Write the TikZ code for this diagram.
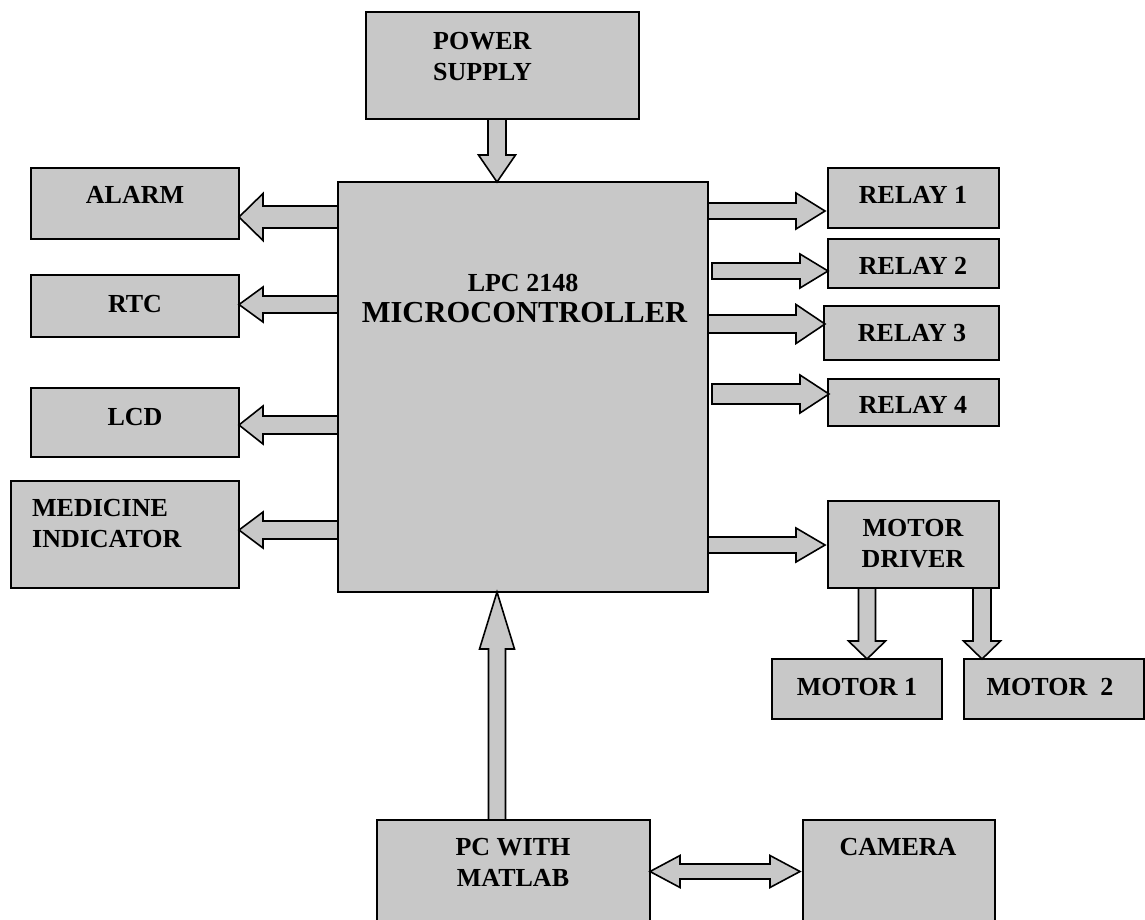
\documentclass[tikz,border=0pt]{standalone}
\usepackage{fontspec}
\setmainfont{Liberation Serif}
\definecolor{boxgray}{RGB}{200,200,200}
\tikzset{
  blk/.style={draw=black, fill=boxgray, line width=1.6pt},
  arr/.style={draw=black, fill=boxgray, line width=1.6pt, line join=miter},
  lbl/.style={inner sep=0pt, font=\fontsize{26}{31}\selectfont\bfseries},
}
% horizontal block arrow: x-tail, x-headbase, x-tip, y-centre, shaft half, head half
\newcommand\harr[6]{\filldraw[arr] (#1,#4-#5) -- (#2,#4-#5) -- (#2,#4-#6) -- (#3,#4) -- (#2,#4+#6) -- (#2,#4+#5) -- (#1,#4+#5) -- cycle;}
% vertical block arrow: y-tail, y-headbase, y-tip, x-centre, shaft half, head half
\newcommand\varr[6]{\filldraw[arr] (#4-#5,#1) -- (#4-#5,#2) -- (#4-#6,#2) -- (#4,#3) -- (#4+#6,#2) -- (#4+#5,#2) -- (#4+#5,#1) -- cycle;}
\begin{document}
\begin{tikzpicture}[x=1pt,y=-1pt]
\useasboundingbox (0,0) rectangle (1145,919);
\clip (0,0) rectangle (1145,919);
\fill[white] (0,0) rectangle (1145,919);

% boxes
\draw[blk] (366,12) rectangle (639,119);
\node (power) at (502.5,65.5) {};
\draw[blk] (338,182) rectangle (708,592);
\node (mcu) at (523,387) {};
\draw[blk] (31,168) rectangle (239,239);
\node (alarm) at (135,203.5) {};
\draw[blk] (31,275) rectangle (239,337);
\node (rtc) at (135,306) {};
\draw[blk] (31,388) rectangle (239,457);
\node (lcd) at (135,422.5) {};
\draw[blk] (11,481) rectangle (239,588);
\node (med) at (125,534.5) {};
\draw[blk] (828,168) rectangle (999,228);
\node (r1) at (913.5,198) {};
\draw[blk] (828,239) rectangle (999,288);
\node (r2) at (913.5,263.5) {};
\draw[blk] (824,306) rectangle (999,360);
\node (r3) at (911.5,333) {};
\draw[blk] (828,379) rectangle (999,426);
\node (r4) at (913.5,402.5) {};
\draw[blk] (828,501) rectangle (999,588);
\node (md) at (913.5,544.5) {};
\draw[blk] (772,659) rectangle (942,719);
\node (m1) at (857,689) {};
\draw[blk] (964,659) rectangle (1144,719);
\node (m2) at (1054,689) {};
\draw[blk] (377,820) rectangle (650,940);
\node (pc) at (513.5,870) {};
\draw[blk] (803,820) rectangle (995,940);
\node (cam) at (899,870) {};

% labels
\node[lbl, align=left, anchor=west] (tpower) at (433,56.5) {POWER\\SUPPLY};
\node[lbl] (tmcua) at (523,283) {LPC 2148};
\node[lbl, font=\fontsize{30.5}{34}\selectfont\bfseries] (tmcub) at (524.5,313) {MICROCONTROLLER};
\node[lbl] (talarm) at (135,195) {ALARM};
\node[lbl] (trtc) at (135,304) {RTC};
\node[lbl] (tlcd) at (135,417) {LCD};
\node[lbl, align=left, anchor=west] (tmed) at (32,523.5) {MEDICINE\\INDICATOR};
\node[lbl] (tr1) at (913,195) {RELAY 1};
\node[lbl] (tr2) at (913,266) {RELAY 2};
\node[lbl] (tr3) at (912,333) {RELAY 3};
\node[lbl] (tr4) at (913,405) {RELAY 4};
\node[lbl, align=center] (tmd) at (913,543.5) {MOTOR\\DRIVER};
\node[lbl] (tm1) at (857,687) {MOTOR 1};
\node[lbl] (tm2) at (1050,687) {MOTOR~~2};
\node[lbl, align=center] (tpc) at (513,862.5) {PC WITH\\MATLAB};
\node[lbl] (tcam) at (898,847) {CAMERA};

% arrows
\varr{119}{155}{182}{497}{9}{18.5}
\harr{338}{263}{239}{217}{11}{23.5}
\harr{338}{263}{239}{304.5}{8.5}{17.5}
\harr{338}{263}{239}{425}{9}{19}
\harr{338}{263}{239}{530}{9}{18}
\harr{708}{796}{825}{211}{8}{18}
\harr{712}{800}{828}{271}{8}{17}
\harr{708}{796}{825}{324}{9}{19.5}
\harr{712}{800}{829}{394}{10}{19}
\harr{708}{796}{825}{545}{8}{17}
\varr{588}{641}{659}{867}{8.5}{18.5}
\varr{588}{641}{659}{982}{9}{18.5}
\varr{820}{649}{592}{497}{8.5}{17.5}
\filldraw[arr] (650,871.5) -- (680,855.5) -- (680,864) -- (770,864) -- (770,855.5) -- (800,871.5) -- (770,887.5) -- (770,879) -- (680,879) -- (680,887.5) -- cycle;
\end{tikzpicture}
\end{document}
